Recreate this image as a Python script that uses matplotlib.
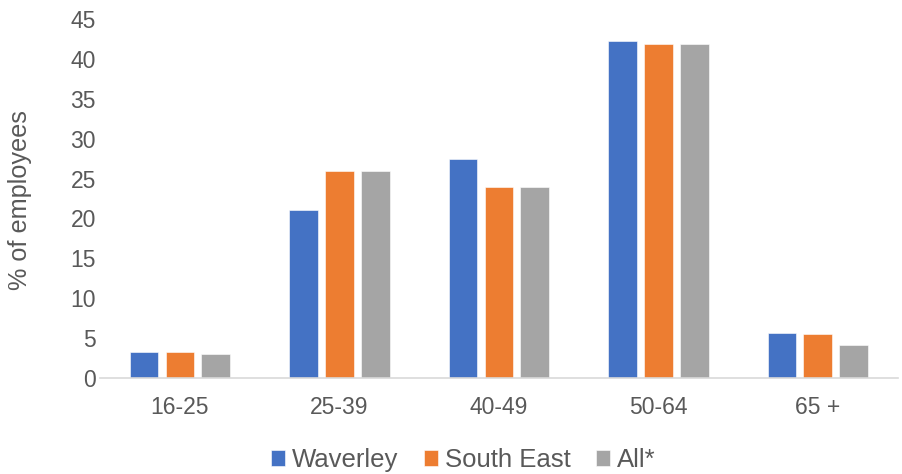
import numpy as np
import matplotlib.pyplot as plt

plt.rcParams['font.family'] = ['Liberation Sans', 'DejaVu Sans']

categories = ['16-25', '25-39', '40-49', '50-64', '65 +']
waverley = [3.3, 21.0, 27.4, 42.2, 5.7]
south_east = [3.3, 26.0, 24.0, 41.9, 5.5]
all_emp = [3.0, 26.0, 24.0, 41.9, 4.2]

series = [('Waverley', waverley, '#4472c4'),
          ('South East', south_east, '#ed7d31'),
          ('All*', all_emp, '#a5a5a5')]

fig = plt.figure(figsize=(9.03, 4.74), dpi=100)
ax = fig.add_axes([0.111, 0.2025, 0.883, 0.7575])

x = np.arange(len(categories))
width = 0.18
step = 0.225
for i, (name, vals, col) in enumerate(series):
    ax.bar(x + (i - 1) * step, vals, width, color=col, label=name,
           edgecolor='white', linewidth=0.4)

ax.set_xlim(-0.5, len(categories) - 0.5)
ax.set_ylim(0, 45)
ax.set_yticks(range(0, 50, 5))
ax.set_xticks(x)
ax.set_xticklabels(categories)
ax.tick_params(axis='both', length=0, labelsize=16.5, colors='#595959')
ax.tick_params(axis='y', pad=3)
ax.tick_params(axis='x', pad=13)
for s in ['top', 'right', 'left']:
    ax.spines[s].set_visible(False)
ax.spines['bottom'].set_color('#d9d9d9')
ax.spines['bottom'].set_linewidth(1.2)

fig.text(20 / 903, 1 - 200 / 474, '% of employees', rotation=90,
         ha='center', va='center', fontsize=18.2, color='#595959')

fig.legend(loc='center', bbox_to_anchor=(0.513, 1 - 460 / 474), ncol=3, frameon=False,
           fontsize=18.5, handlelength=0.55, handleheight=0.55, handletextpad=0.27,
           columnspacing=1.0, labelcolor='#595959', borderpad=0)

fig.savefig('out.png', dpi=100)
